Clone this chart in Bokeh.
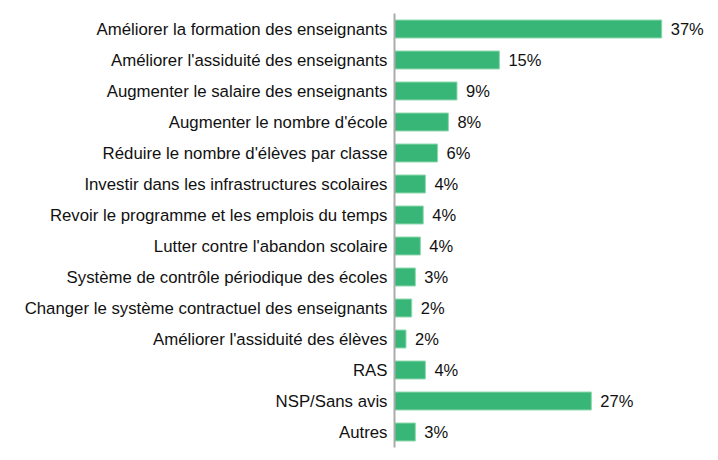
from bokeh.plotting import figure
from bokeh.models import ColumnDataSource, Range1d, FactorRange
from bokeh.core.properties import value
from bokeh.embed import file_html
from bokeh.resources import INLINE

categories = [
    "Améliorer la formation des enseignants",
    "Améliorer l'assiduité des enseignants",
    "Augmenter le salaire des enseignants",
    "Augmenter le nombre d'école",
    "Réduire le nombre d'élèves par classe",
    "Investir dans les infrastructures scolaires",
    "Revoir le programme et les emplois du temps",
    "Lutter contre l'abandon scolaire",
    "Système de contrôle périodique des écoles",
    "Changer le système contractuel des enseignants",
    "Améliorer l'assiduité des élèves",
    "RAS",
    "NSP/Sans avis",
    "Autres",
]
values = [37.2, 14.6, 8.7, 7.5, 6.0, 4.3, 4.0, 3.6, 2.9, 2.4, 1.6, 4.3, 27.4, 2.9]
labels = ["37%", "15%", "9%", "8%", "6%", "4%", "4%", "4%", "3%", "2%", "2%", "4%", "27%", "3%"]

src = ColumnDataSource(dict(cat=categories, val=values, lab=labels))

p = figure(
    width=718, height=460,
    y_range=FactorRange(factors=list(reversed(categories)), range_padding=0),
    x_range=Range1d(0, 45.1),
    output_backend="svg", toolbar_location=None,
    min_border_left=394, min_border_right=0, min_border_top=13, min_border_bottom=13,
)

p.hbar(y="cat", right="val", left=0, height=0.58, source=src,
       fill_color="#38b677", line_color="#8fd9b0", line_width=1)

p.text(x="val", y="cat", text="lab", source=src, x_offset=9,
       text_baseline="middle", text_align="left",
       text_font=value("Liberation Sans"), text_font_size="16.5px", text_color="#111111")

p.xaxis.visible = False
p.xgrid.visible = False
p.ygrid.visible = False
p.outline_line_color = None

ax = p.yaxis[0]
ax.axis_line_color = "#ababab"
ax.axis_line_width = 2
ax.major_tick_line_color = None
ax.minor_tick_line_color = None
ax.major_tick_in = 0
ax.major_tick_out = 0
ax.major_label_standoff = 7
ax.major_label_text_font = "Liberation Sans"
ax.major_label_text_font_size = "16.8px"
ax.major_label_text_color = "#111111"

open("out.html", "w").write(file_html(p, INLINE))
